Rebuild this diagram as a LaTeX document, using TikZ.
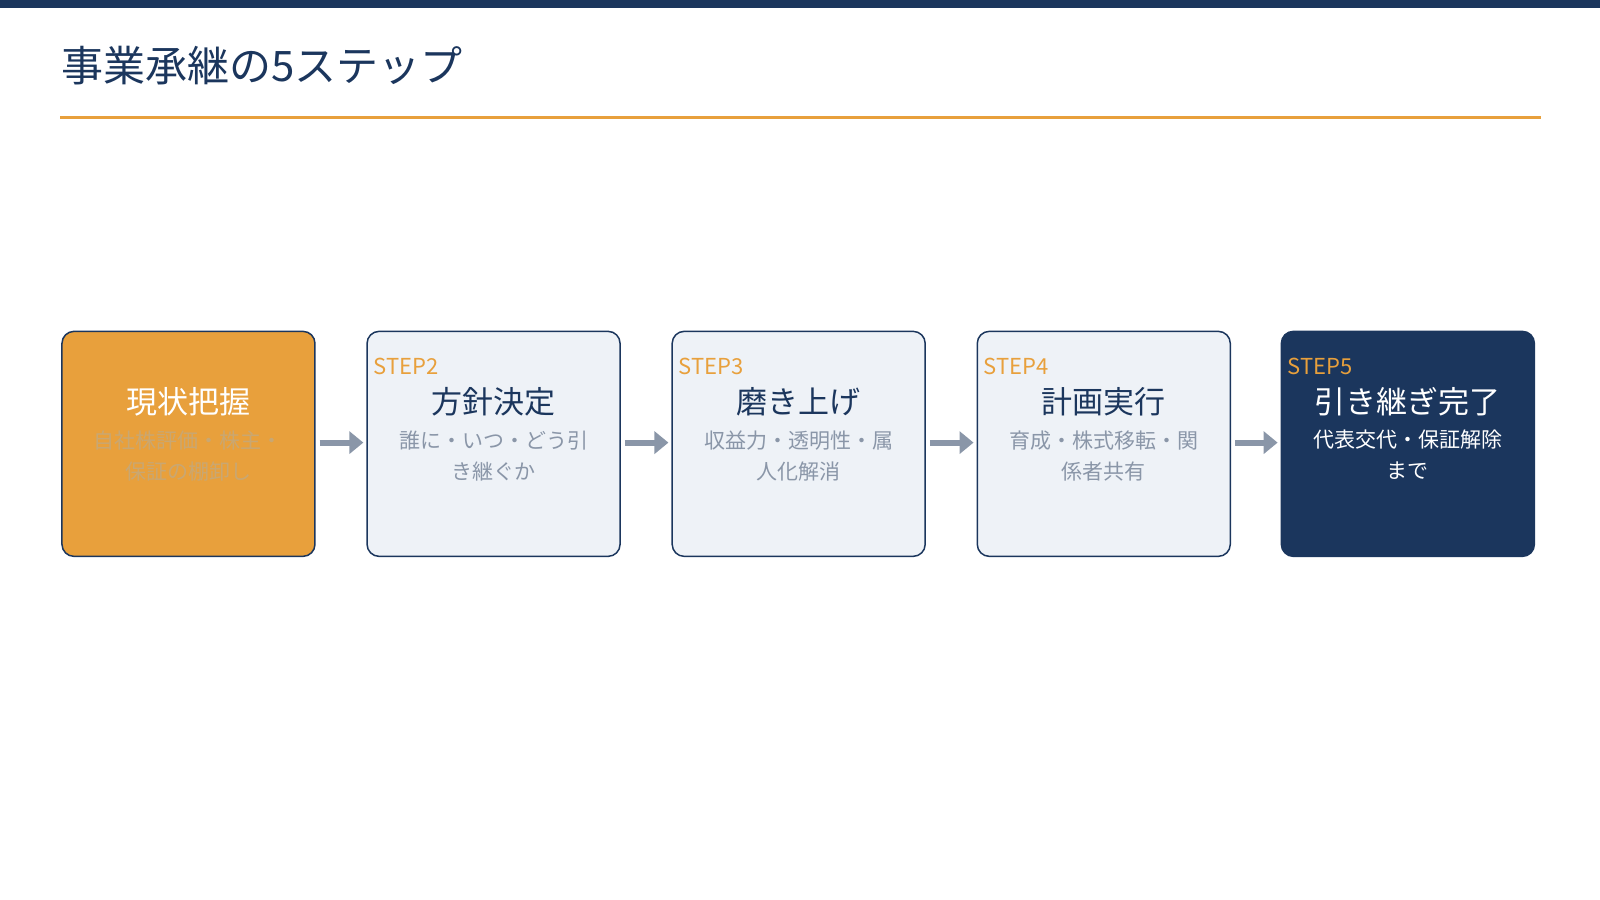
\documentclass[tikz,border=0pt]{standalone}
\usepackage{fontspec}
\setmainfont{Noto Sans CJK JP}
\usetikzlibrary{positioning,arrows.meta}
\definecolor{navy}{HTML}{1B365D}
\definecolor{accent}{HTML}{E8A03C}
\definecolor{pale}{HTML}{EEF2F7}
\definecolor{muted}{HTML}{8A96A8}
\definecolor{tan}{HTML}{C9A772}
\tikzset{
  stepbox/.style={draw=navy, line width=1.5pt, rounded corners=12pt, minimum width=253pt, minimum height=225pt, anchor=north west, inner sep=0pt},
  steplabel/.style={anchor=base west, text=accent, font=\fontsize{22}{26}\selectfont, inner sep=0pt},
  boxtitle/.style={font=\fontsize{31}{36}\selectfont, inner sep=0pt},
  boxbody/.style={font=\fontsize{21}{31}\selectfont, align=center, inner sep=0pt},
  flow/.style={-{Triangle[length=14pt,width=22pt]}, line width=6pt, draw=muted}
}
\begin{document}
\begin{tikzpicture}[x=1.0204pt,y=-1.0204pt]
  \useasboundingbox (0,0) rectangle (1568,882);
  \fill[navy] (0,0) rectangle (1568,8);
  \node[anchor=base west, inner sep=0pt, text=navy, font=\fontsize{42}{48}\selectfont] (title) at (60,80) {事業承継の5ステップ};
  \draw[accent, line width=3pt] (59,115) -- (1510,115);
  % boxes
  \node[stepbox, fill=accent] (s1) at (60,324) {};
  \node[stepbox, fill=pale] (s2) at (359,324) {};
  \node[stepbox, fill=pale] (s3) at (658,324) {};
  \node[stepbox, fill=pale] (s4) at (957,324) {};
  \node[stepbox, fill=navy] (s5) at (1255,324) {};
  % labels
  \foreach \i in {1,...,5} {
    \node[steplabel] at ([xshift=7pt,yshift=-44pt]s\i.north west) {STEP\i};
  }
  \node[boxtitle, text=white] (t1) at ([yshift=-71pt]s1.north) {現状把握};
  \node[boxtitle, text=navy] (t2) at ([yshift=-71pt]s2.north) {方針決定};
  \node[boxtitle, text=navy] (t3) at ([yshift=-71pt]s3.north) {磨き上げ};
  \node[boxtitle, text=navy] (t4) at ([yshift=-71pt]s4.north) {計画実行};
  \node[boxtitle, text=white] (t5) at ([yshift=-71pt]s5.north) {引き継ぎ完了};
  \node[boxbody, text=tan, below=14pt of t1] {自社株評価・株主・\\保証の棚卸し};
  \node[boxbody, text=muted, below=14pt of t2] {誰に・いつ・どう引\\き継ぐか};
  \node[boxbody, text=muted, below=14pt of t3] {収益力・透明性・属\\人化解消};
  \node[boxbody, text=muted, below=14pt of t4] {育成・株式移転・関\\係者共有};
  \node[boxbody, text=white, below=14pt of t5] {代表交代・保証解除\\まで};
  % arrows
  \foreach \a/\b in {1/2,2/3,3/4,4/5} {
    \draw[flow] ([xshift=4pt,yshift=-112pt]s\a.north east) -- ([xshift=-3pt,yshift=-112pt]s\b.north west);
  }
\end{tikzpicture}
\end{document}
